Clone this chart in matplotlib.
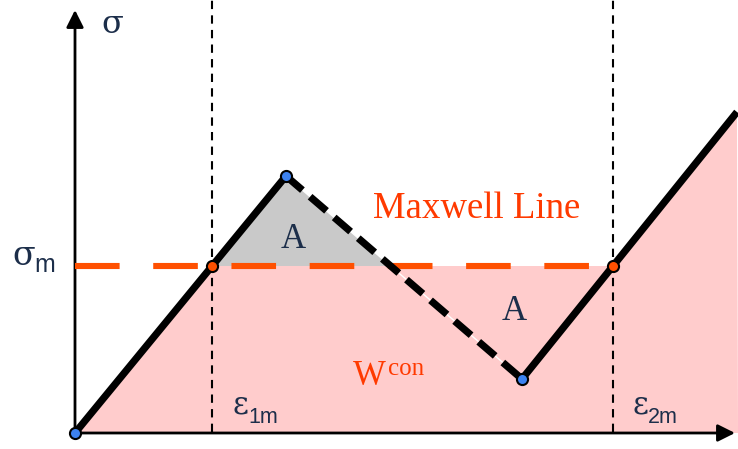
import matplotlib
matplotlib.use("Agg")
import matplotlib.pyplot as plt
import numpy as np

# Van der Waals-type stress-strain loop with its Maxwell construction
eps_pts = [0.0, 2.11, 4.47, 6.62]      # origin, local max, local min, end of curve
sig_pts = [0.0, 2.57, 0.54, 3.21]
sigma_m = 1.67                          # Maxwell stress

NAVY = "#1c2e4a"
ORANGE = "#ff5000"
TEXT_ORANGE = "#ff3a00"
PINK = "#ffcccc"
GRAY = "#c9c9c9"
BLUE = "#3d82f0"
SERIF = "Liberation Serif"
GREEK = "DejaVu Serif"
SANS = "Liberation Sans"


def cross(e0, s0, e1, s1, s):
    """Strain where the segment (e0,s0)-(e1,s1) reaches stress s."""
    return e0 + (s - s0) * (e1 - e0) / (s1 - s0)


eps_1m = cross(eps_pts[0], sig_pts[0], eps_pts[1], sig_pts[1], sigma_m)
eps_mid = cross(eps_pts[1], sig_pts[1], eps_pts[2], sig_pts[2], sigma_m)
eps_2m = cross(eps_pts[2], sig_pts[2], eps_pts[3], sig_pts[3], sigma_m)

fig = plt.figure(figsize=(7.38, 4.49), dpi=100)
ax = fig.add_axes([0, 0, 1, 1])
ax.set_xlim(-0.75, 6.63)
ax.set_ylim(-0.16, 4.33)
ax.axis("off")

# Work of the constructed (equal-area) path
ax.fill([eps_pts[0], eps_1m, eps_2m, eps_pts[3], 6.63, eps_pts[0]],
        [sig_pts[0], sigma_m, sigma_m, sig_pts[3], 0.0, 0.0],
        color=PINK, lw=0, zorder=1)
# Upper equal-area lobe
ax.fill([eps_1m, eps_pts[1], eps_mid], [sigma_m, sig_pts[1], sigma_m],
        color=GRAY, lw=0, zorder=1)

# Axes with arrows
ax.annotate("", xy=(0, 4.23), xytext=(0, -0.005),
            arrowprops=dict(arrowstyle="-|>", lw=2, color="black",
                            mutation_scale=26, shrinkA=0, shrinkB=0), zorder=3)
ax.annotate("", xy=(6.60, 0), xytext=(-0.01, 0),
            arrowprops=dict(arrowstyle="-|>", lw=2, color="black",
                            mutation_scale=26, shrinkA=0, shrinkB=0), zorder=3)

# Strain markers
for e in (eps_1m, eps_2m):
    ax.plot([e, e], [0.01, 4.4], color="black", lw=1.5,
            ls=(0, (4, 3)), zorder=2)

# Maxwell line
ax.plot([0, eps_2m], [sigma_m, sigma_m], color=ORANGE, lw=4.4,
        ls=(0, (7.3, 5.5)), dash_capstyle="butt", zorder=4)

# Stable branches (solid) and unstable branch (dashed)
ax.plot(eps_pts[:2], sig_pts[:2], color="black", lw=5.2, zorder=5,
        solid_capstyle="round")
ax.plot(eps_pts[2:], sig_pts[2:], color="black", lw=5.2, zorder=5,
        solid_capstyle="butt")
ax.plot(eps_pts[1:3], sig_pts[1:3], color="white", lw=1, zorder=5)
ax.plot(eps_pts[1:3], sig_pts[1:3], color="black", lw=5.2, zorder=5,
        ls=(0, (3.0, 1.4)), dash_capstyle="butt")

# Turning points and Maxwell intersections
ax.plot(eps_pts[:3], sig_pts[:3], ls="none", marker="o", ms=8,
        mfc=BLUE, mec="black", mew=1.5, zorder=6)
ax.plot([eps_1m, eps_2m], [sigma_m, sigma_m], ls="none", marker="o", ms=8,
        mfc=ORANGE, mec="black", mew=1.5, zorder=6)

# Labels
ax.text(0.26, 4.00, "σ", family=GREEK, fontsize=23, color=NAVY, zorder=7)
ax.text(-0.63, 1.68, "σ", family=GREEK, fontsize=24, color=NAVY, zorder=7)
ax.text(-0.41, 1.61, "m", family=SANS, fontsize=18, color=NAVY, zorder=7)
ax.text(1.57, 0.20, "ε", family=GREEK, fontsize=22, color=NAVY, zorder=7)
ax.text(1.73, 0.10, "1m", family=SANS, fontsize=15.5, color=NAVY, zorder=7)
ax.text(5.57, 0.20, "ε", family=GREEK, fontsize=22, color=NAVY, zorder=7)
ax.text(5.73, 0.10, "2m", family=SANS, fontsize=15.5, color=NAVY, zorder=7)
ax.text(2.98, 2.15, "Maxwell Line", family=SERIF, fontsize=26.5,
        color=TEXT_ORANGE, zorder=7)
ax.text(2.18, 1.85, "A", family=SERIF, fontsize=25, color=NAVY,
        ha="center", zorder=7)
ax.text(4.39, 1.13, "A", family=SERIF, fontsize=25, color=NAVY,
        ha="center", zorder=7)
ax.text(2.78, 0.48, "W", family=SERIF, fontsize=25, color=TEXT_ORANGE, zorder=7)
ax.text(3.13, 0.58, "con", family=SERIF, fontsize=18, color=TEXT_ORANGE, zorder=7)

fig.savefig("out.png", dpi=100)
